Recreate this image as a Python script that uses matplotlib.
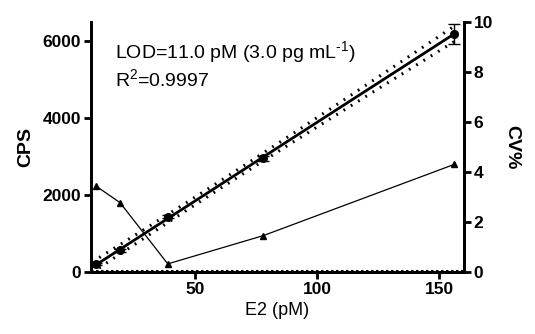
import matplotlib.pyplot as plt
import numpy as np

plt.rcParams['font.family'] = ['Liberation Sans', 'DejaVu Sans']
plt.rcParams['mathtext.fontset'] = 'custom'
plt.rcParams['mathtext.rm'] = 'Liberation Sans'
plt.rcParams['mathtext.default'] = 'regular'

# data
conc = [9.75, 19.5, 39, 78, 156]
cps = [200, 560, 1430, 2950, 6200]
cps_err = [20, 30, 40, 60, 260]
cv = [3.43, 2.77, 0.32, 1.45, 4.3]

fig = plt.figure(figsize=(5.35, 3.34), dpi=100)
ax = fig.add_axes([0.170, 0.186, 0.697, 0.748])
ax2 = ax.twinx()

# linear fit with confidence band
x = np.array(conc)
y = np.array(cps)
k, b = np.polyfit(x, y, 1)
xf = np.linspace(8, 157, 200)
yf = k * xf + b
sxx = np.sum((x - x.mean()) ** 2)
half = 217 * np.sqrt(1 / len(x) + (xf - x.mean()) ** 2 / sxx)

ax.plot(xf, yf, color='black', lw=2, zorder=3)
ax.plot(xf, yf + half, color='black', lw=2.2, ls=(0, (0.6, 2.2)), zorder=3)
ax.plot(xf, yf - half, color='black', lw=2.2, ls=(0, (0.6, 2.2)), zorder=3)
ax.errorbar(conc, cps, yerr=cps_err, fmt='o', color='black', ms=5.5,
            elinewidth=1, capsize=4, capthick=1, zorder=4)
ax.axhline(30, color='black', lw=1.5, ls=(0, (1.2, 1.2)), zorder=2)

ax2.plot(conc, cv, color='black', lw=0.9, marker='^', ms=4)

ax.set_xlim(7.6, 160)
ax.set_ylim(0, 6500)
ax2.set_ylim(0, 10)
ax.set_xticks([50, 100, 150])
ax.set_yticks([0, 2000, 4000, 6000])
ax2.set_yticks([0, 2, 4, 6, 8, 10])

for a in (ax, ax2):
    a.spines['top'].set_visible(False)
    for s in a.spines.values():
        s.set_linewidth(2)
    a.tick_params(width=2, length=5, labelsize=12.5, pad=2)
    for lab in a.get_xticklabels() + a.get_yticklabels():
        lab.set_fontweight('bold')

ax.set_xlabel('E2 (pM)', fontsize=13, labelpad=4)
ax.set_ylabel('CPS', fontsize=14, fontweight='bold', labelpad=6)
ax2.set_ylabel('CV%', fontsize=14, fontweight='bold', rotation=-90, labelpad=20)

ax.text(0.064, 0.88, 'LOD=11.0 pM (3.0 pg mL$^{\\text{-1}}$)', transform=ax.transAxes,
        fontsize=14, va='center')
ax.text(0.064, 0.77, 'R$^{2}$=0.9997', transform=ax.transAxes,
        fontsize=14, va='center')

plt.savefig('out.png', dpi=100)
